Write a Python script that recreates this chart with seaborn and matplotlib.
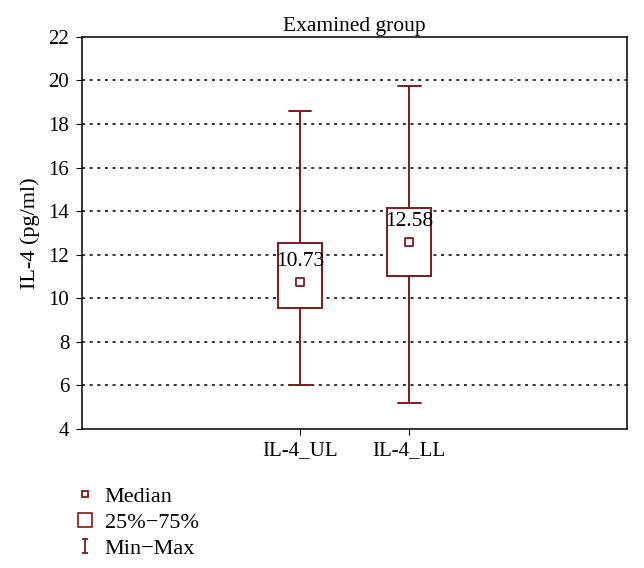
import matplotlib
matplotlib.use("Agg")
import matplotlib.pyplot as plt
import seaborn as sns
import pandas as pd
from matplotlib.lines import Line2D
from matplotlib.path import Path

# values
groups = ["IL-4_UL", "IL-4_LL"]
mins = [6.02, 5.18]
q1 = [9.57, 11.0]
medians = [10.73, 12.58]
q3 = [12.54, 14.16]
maxs = [18.62, 19.75]

red = "#7d1a1c"

sns.set_style("white")
plt.rcParams["font.family"] = ["Liberation Serif", "DejaVu Serif"]
plt.rcParams.update({"text.color": "black", "axes.labelcolor": "black",
                     "xtick.color": "black", "ytick.color": "black"})

fig = plt.figure(figsize=(6.44, 5.68), dpi=100)
ax = fig.add_axes([0.127, 0.245, 0.847, 0.69])

stats = []
for g, lo, a, m, b, hi in zip(groups, mins, q1, medians, q3, maxs):
    stats.append(dict(label=g, whislo=lo, q1=a, med=m, q3=b, whishi=hi, fliers=[]))

ax.bxp(stats, positions=[0, 1], widths=0.4, showfliers=False, patch_artist=True,
       boxprops=dict(facecolor="white", edgecolor=red, linewidth=1.4),
       whiskerprops=dict(color=red, linewidth=1.4),
       capprops=dict(color=red, linewidth=1.4),
       medianprops=dict(linewidth=0, color="none"),
       capwidths=0.21, zorder=3)

df = pd.DataFrame({"pos": [0, 1], "median": medians})
sns.scatterplot(data=df, x="pos", y="median", marker="s", s=30,
                facecolor="white", edgecolor=red, linewidth=1.3, ax=ax, zorder=5)

for i, m in enumerate(medians):
    ax.text(i, m + 0.95, f"{m:.2f}", ha="center", va="center", fontsize=15.5, zorder=6)

ax.set_xlim(-2, 3)
ax.set_ylim(4, 22)
ax.set_yticks(range(4, 23, 2))
ax.set_xticks([0, 1])
ax.set_xticklabels(groups)
ax.tick_params(axis="both", labelsize=15, length=4, pad=5, direction="out", color="black")
ax.tick_params(axis="both", which="both", left=True, bottom=True)
for y in range(6, 21, 2):
    ax.axhline(y, color="black", linestyle=(0, (2, 3)), linewidth=1.1, zorder=0)
for s in ax.spines.values():
    s.set_color("black")
    s.set_linewidth(1.1)
ax.set_xlabel("")
ax.set_ylabel("IL-4 (pg/ml)", fontsize=16, labelpad=6)
ax.set_title("Examined group", fontsize=15.5, pad=4)

# legend with custom symbols
minmax = Path([(-0.5, 1), (0.5, 1), (0, 1), (0, -1), (-0.5, -1), (0.5, -1)],
              [Path.MOVETO, Path.LINETO, Path.MOVETO, Path.LINETO, Path.MOVETO, Path.LINETO])
handles = [
    Line2D([], [], linestyle="none", marker="s", markersize=5, markerfacecolor="white",
           markeredgecolor=red, markeredgewidth=1.3),
    Line2D([], [], linestyle="none", marker="s", markersize=10, markerfacecolor="white",
           markeredgecolor=red, markeredgewidth=1.2),
    Line2D([], [], linestyle="none", marker=minmax, markersize=10, markerfacecolor="none",
           markeredgecolor=red, markeredgewidth=1.3),
]
fig.legend(handles, ["Median", "25%\u221275%", "Min\u2212Max"], loc="upper left",
           bbox_to_anchor=(0.083, 0.179), frameon=False, fontsize=16,
           handletextpad=0.4, labelspacing=0.25, handlelength=1.0)

fig.savefig("out.png", dpi=100)
